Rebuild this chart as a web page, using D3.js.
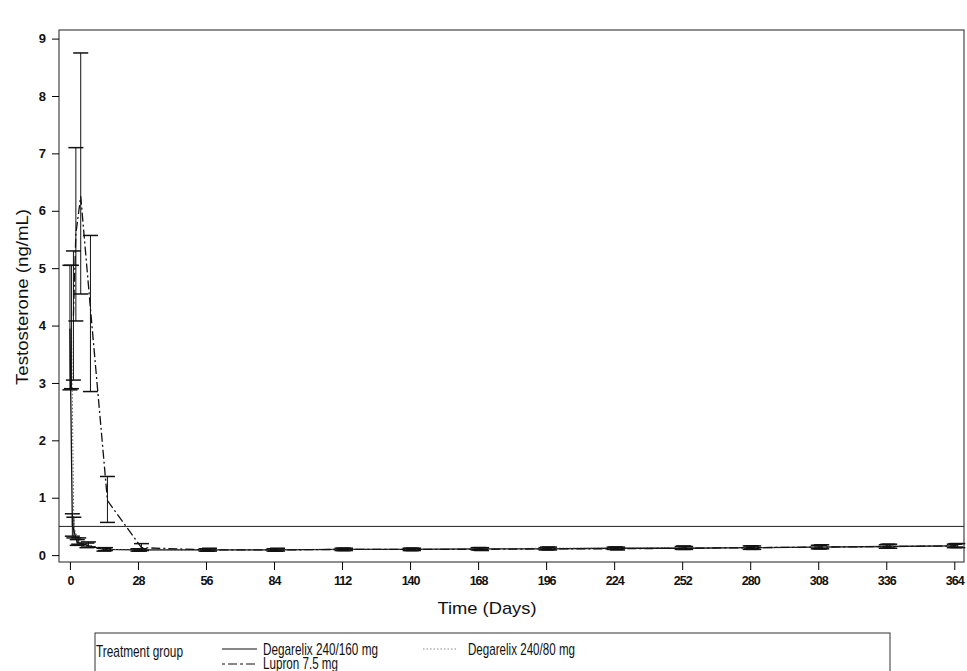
<!DOCTYPE html>
<html>
<head>
<meta charset="utf-8">
<script src="https://cdn.jsdelivr.net/npm/d3@7/dist/d3.min.js"></script>
<style>
  html, body { margin: 0; padding: 0; background: #fff; }
  svg { display: block; font-family: "Liberation Sans", Arial, sans-serif; }
</style>
</head>
<body>
<div id="chart"></div>
<script>
// Visit days
const days = [0, 1, 3, 7, 14, 28, 56, 84, 112, 140, 168, 196, 224, 252, 280, 308, 336, 364];

// Degarelix 240/160 mg
const deg160Mean = [3.95, 0.52, 0.22, 0.17, 0.10, 0.09, 0.09, 0.09, 0.10, 0.10, 0.11, 0.11, 0.12, 0.12, 0.13, 0.14, 0.15, 0.16];
const deg160Lo   = [2.88, 0.33, 0.17, 0.13, 0.07, 0.07, 0.07, 0.07, 0.08, 0.08, 0.09, 0.09, 0.10, 0.10, 0.10, 0.11, 0.12, 0.13];
const deg160Hi   = [5.05, 0.72, 0.27, 0.21, 0.12, 0.11, 0.11, 0.11, 0.12, 0.12, 0.13, 0.13, 0.14, 0.15, 0.16, 0.17, 0.18, 0.19];

// Degarelix 240/80 mg
const deg80Mean = [3.97, 0.48, 0.24, 0.18, 0.10, 0.09, 0.09, 0.09, 0.10, 0.10, 0.11, 0.12, 0.12, 0.13, 0.13, 0.14, 0.15, 0.17];
const deg80Lo   = [2.90, 0.30, 0.19, 0.14, 0.08, 0.07, 0.07, 0.07, 0.08, 0.08, 0.09, 0.10, 0.10, 0.10, 0.11, 0.11, 0.12, 0.14];
const deg80Hi   = [5.05, 0.66, 0.30, 0.23, 0.13, 0.11, 0.11, 0.11, 0.12, 0.12, 0.13, 0.14, 0.14, 0.16, 0.16, 0.17, 0.19, 0.20];

// Lupron 7.5 mg
const lupMean = [4.17, 5.60, 6.25, 4.30, 0.95, 0.13, 0.09, 0.09, 0.10, 0.10, 0.10, 0.11, 0.11, 0.12, 0.13, 0.14, 0.15, 0.16];
const lupLo   = [3.05, 4.08, 4.55, 2.85, 0.57, 0.08, 0.07, 0.07, 0.08, 0.08, 0.08, 0.09, 0.09, 0.10, 0.10, 0.11, 0.12, 0.13];
const lupHi   = [5.30, 7.10, 8.75, 5.57, 1.37, 0.20, 0.12, 0.12, 0.12, 0.12, 0.13, 0.14, 0.14, 0.15, 0.16, 0.18, 0.19, 0.20];

// Axis ticks
const yTicks = [0, 1, 2, 3, 4, 5, 6, 7, 8, 9];
const xTicks = d3.range(0, 365, 28);
const castrationLevel = 0.5;

const width = 967;
const height = 671;

const svg = d3.select('#chart')
  .append('svg')
  .attr('width', width)
  .attr('height', height);

// plot frame edges
const frameL = 59, frameR = 964, frameT = 30, frameB = 562;

const x = d3.scaleLinear().domain([-4.5, 368]).range([frameL, frameR]);
const y = d3.scaleLinear().domain([-0.12, 9.15]).range([frameB, frameT]);

// frame
svg.append('rect')
  .attr('x', frameL)
  .attr('y', frameT)
  .attr('width', frameR - frameL)
  .attr('height', frameB - frameT)
  .attr('fill', 'none')
  .attr('stroke', '#444')
  .attr('stroke-width', 1.2);

// y axis
const yAxis = svg.append('g')
  .attr('transform', `translate(${frameL},0)`)
  .call(d3.axisLeft(y).tickValues(yTicks).tickSize(7).tickPadding(6).tickFormat(d3.format('d')));
yAxis.select('.domain').remove();
yAxis.selectAll('text')
  .attr('font-size', '13px')
  .attr('font-weight', 'bold')
  .attr('font-family', '"Liberation Sans", Arial, sans-serif')
  .attr('fill', '#111');

// x axis
const xAxis = svg.append('g')
  .attr('transform', `translate(0,${frameB})`)
  .call(d3.axisBottom(x).tickValues(xTicks).tickSize(8).tickPadding(6));
xAxis.select('.domain').remove();
xAxis.selectAll('text')
  .attr('font-size', '12.5px')
  .attr('font-weight', 'bold')
  .attr('letter-spacing', '-1px')
  .attr('font-family', '"Liberation Sans", Arial, sans-serif')
  .attr('fill', '#111');

// axis titles
svg.append('text')
  .attr('x', 487)
  .attr('y', 614)
  .attr('text-anchor', 'middle')
  .attr('font-size', '17px')
  .attr('textLength', 99)
  .attr('lengthAdjust', 'spacingAndGlyphs')
  .attr('fill', '#111')
  .text('Time (Days)');

svg.append('text')
  .attr('transform', 'translate(28,297) rotate(-90)')
  .attr('text-anchor', 'middle')
  .attr('font-size', '17px')
  .attr('textLength', 176)
  .attr('lengthAdjust', 'spacingAndGlyphs')
  .attr('fill', '#111')
  .text('Testosterone (ng/mL)');

// castration reference line at 0.5 ng/mL
svg.append('line')
  .attr('x1', frameL)
  .attr('x2', frameR)
  .attr('y1', y(castrationLevel))
  .attr('y2', y(castrationLevel))
  .attr('stroke', '#222')
  .attr('stroke-width', 1);

const series = [
  { name: 'Degarelix 240/160 mg', mean: deg160Mean, lo: deg160Lo, hi: deg160Hi, dx: 0, dash: null, color: '#111', width: 1.3 },
  { name: 'Degarelix 240/80 mg', mean: deg80Mean, lo: deg80Lo, hi: deg80Hi, dx: 1.5, dash: '1.5,2', color: '#555', width: 1 },
  { name: 'Lupron 7.5 mg', mean: lupMean, lo: lupLo, hi: lupHi, dx: 3.5, dash: '9,3,2,3', color: '#111', width: 1.3 }
];

const line = d3.line()
  .x(d => d.x)
  .y(d => d.y);

const capHalf = 7.5;

series.forEach(s => {
  const pts = days.map((d, i) => ({ x: x(d) + s.dx, y: y(s.mean[i]), lo: y(s.lo[i]), hi: y(s.hi[i]) }));

  svg.append('path')
    .datum(pts)
    .attr('d', line)
    .attr('fill', 'none')
    .attr('stroke', s.color)
    .attr('stroke-width', s.width)
    .attr('stroke-dasharray', s.dash);

  const bars = svg.append('g').attr('class', 'errbars');
  bars.selectAll('.v')
    .data(pts)
    .enter()
    .append('line')
    .attr('x1', d => d.x).attr('x2', d => d.x)
    .attr('y1', d => d.lo).attr('y2', d => d.hi)
    .attr('stroke', '#111')
    .attr('stroke-width', 1);
  ['lo', 'hi'].forEach(k => {
    bars.selectAll('.c' + k)
      .data(pts)
      .enter()
      .append('line')
      .attr('x1', d => d.x - capHalf).attr('x2', d => d.x + capHalf)
      .attr('y1', d => d[k]).attr('y2', d => d[k])
      .attr('stroke', '#111')
      .attr('stroke-width', 1.5);
  });
});

// legend box (runs off the bottom of the page)
const legend = svg.append('g');
legend.append('rect')
  .attr('x', 95)
  .attr('y', 633)
  .attr('width', 795)
  .attr('height', 60)
  .attr('fill', 'none')
  .attr('stroke', '#333')
  .attr('stroke-width', 1);

legend.append('text')
  .attr('x', 96)
  .attr('y', 657)
  .attr('font-size', '17px')
  .attr('textLength', 87)
  .attr('lengthAdjust', 'spacingAndGlyphs')
  .attr('fill', '#111')
  .text('Treatment group');

const legendItems = [
  { label: series[0].name, lx: 222, ly: 649, tx: 263, ty: 655, tw: 115, dash: null, color: '#111' },
  { label: series[1].name, lx: 423, ly: 649, tx: 468, ty: 655, tw: 107, dash: '1.5,2', color: '#888' },
  { label: series[2].name, lx: 222, ly: 664, tx: 263, ty: 669, tw: 75, dash: '3,3,9,3', color: '#111' }
];

legendItems.forEach(it => {
  legend.append('line')
    .attr('x1', it.lx).attr('x2', it.lx + 35)
    .attr('y1', it.ly).attr('y2', it.ly)
    .attr('stroke', it.color)
    .attr('stroke-width', 1)
    .attr('stroke-dasharray', it.dash);
  legend.append('text')
    .attr('x', it.tx)
    .attr('y', it.ty)
    .attr('font-size', '17px')
    .attr('textLength', it.tw)
    .attr('lengthAdjust', 'spacingAndGlyphs')
    .attr('fill', '#111')
    .text(it.label);
});
</script>
</body>
</html>
